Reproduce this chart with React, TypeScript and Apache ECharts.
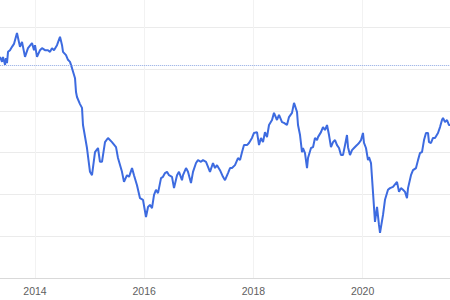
import React, { useEffect, useRef } from "react";
import * as echarts from "echarts";

// Time in decimal years
const years = [
  2013.359, 2013.396, 2013.414, 2013.451, 2013.469, 2013.487, 2013.506, 2013.542, 2013.579, 2013.615,
  2013.670, 2013.725, 2013.762, 2013.817, 2013.872, 2013.945, 2013.982, 2014.000, 2014.037, 2014.092,
  2014.128, 2014.183, 2014.238, 2014.275, 2014.311, 2014.348, 2014.403, 2014.458, 2014.495, 2014.513,
  2014.568, 2014.604, 2014.641, 2014.678, 2014.733, 2014.751, 2014.769, 2014.824, 2014.861, 2014.879,
  2014.952, 2015.007, 2015.044, 2015.099, 2015.154, 2015.190, 2015.227, 2015.282, 2015.337, 2015.410,
  2015.484, 2015.520, 2015.593, 2015.630, 2015.685, 2015.722, 2015.777, 2015.813, 2015.868, 2015.923,
  2015.978, 2016.033, 2016.070, 2016.106, 2016.143, 2016.180, 2016.216, 2016.253, 2016.308, 2016.344,
  2016.381, 2016.418, 2016.454, 2016.509, 2016.546, 2016.601, 2016.637, 2016.692, 2016.711, 2016.766,
  2016.802, 2016.857, 2016.894, 2016.949, 2016.985, 2017.040, 2017.077, 2017.132, 2017.169, 2017.205,
  2017.260, 2017.297, 2017.333, 2017.388, 2017.443, 2017.480, 2017.535, 2017.572, 2017.608, 2017.663,
  2017.718, 2017.755, 2017.791, 2017.828, 2017.883, 2017.919, 2017.974, 2018.011, 2018.066, 2018.103,
  2018.139, 2018.176, 2018.212, 2018.249, 2018.286, 2018.341, 2018.377, 2018.432, 2018.469, 2018.524,
  2018.560, 2018.615, 2018.652, 2018.707, 2018.744, 2018.799, 2018.817, 2018.854, 2018.890, 2018.908,
  2018.945, 2018.982, 2019.000, 2019.055, 2019.092, 2019.128, 2019.165, 2019.183, 2019.238, 2019.275,
  2019.311, 2019.348, 2019.385, 2019.421, 2019.458, 2019.495, 2019.531, 2019.568, 2019.604, 2019.641,
  2019.678, 2019.714, 2019.733, 2019.769, 2019.806, 2019.843, 2019.897, 2019.934, 2019.971, 2020.007,
  2020.026, 2020.062, 2020.099, 2020.117, 2020.154, 2020.190, 2020.227, 2020.264, 2020.300, 2020.319,
  2020.374, 2020.410, 2020.465, 2020.502, 2020.557, 2020.630, 2020.667, 2020.703, 2020.740, 2020.777,
  2020.813, 2020.832, 2020.886, 2020.923, 2020.978, 2021.015, 2021.051, 2021.088, 2021.125, 2021.161,
  2021.198, 2021.216, 2021.253, 2021.289, 2021.326, 2021.381, 2021.418, 2021.454, 2021.473, 2021.509,
  2021.546, 2021.582, 2021.601,
];

const prices = [
  52.9, 51.7, 52.9, 51.0, 52.6, 51.4, 54.1, 54.5, 55.3, 56.0,
  58.6, 55.3, 56.5, 52.9, 55.0, 56.2, 54.5, 55.7, 52.9, 54.5,
  55.0, 54.5, 54.5, 54.1, 55.0, 54.5, 55.7, 57.7, 55.7, 54.1,
  53.3, 52.2, 51.7, 50.2, 47.8, 44.5, 43.3, 41.6, 40.7, 36.6,
  31.1, 25.4, 24.6, 30.1, 31.1, 27.8, 27.8, 32.5, 33.5, 32.5,
  31.3, 28.7, 25.4, 23.0, 24.6, 24.2, 26.3, 24.6, 22.2, 19.1,
  18.7, 14.6, 17.0, 17.5, 16.7, 19.9, 21.1, 20.3, 23.9, 24.2,
  25.1, 25.4, 24.6, 24.2, 21.5, 24.6, 25.4, 23.4, 24.6, 26.3,
  25.4, 22.7, 25.4, 27.5, 28.2, 27.8, 28.2, 27.8, 26.6, 25.4,
  27.5, 26.3, 27.0, 25.8, 24.2, 23.4, 25.1, 26.3, 26.3, 27.0,
  28.7, 28.2, 30.1, 31.8, 31.8, 32.3, 33.5, 34.7, 34.9, 31.8,
  33.5, 32.5, 34.9, 33.7, 36.6, 37.8, 39.5, 37.8, 39.0, 37.3,
  37.1, 36.6, 38.5, 39.5, 41.9, 39.7, 36.6, 34.2, 30.1, 31.1,
  29.9, 26.3, 28.7, 31.1, 31.3, 33.5, 33.0, 33.7, 34.9, 36.1,
  35.4, 36.6, 34.2, 31.3, 32.5, 33.0, 31.8, 31.1, 29.4, 29.4,
  31.8, 34.2, 31.3, 29.4, 30.6, 31.1, 31.8, 32.3, 33.0, 34.7,
  32.3, 31.1, 28.2, 28.9, 27.5, 20.6, 13.4, 17.0, 12.7, 10.8,
  15.1, 18.7, 21.1, 21.5, 21.8, 23.0, 20.6, 21.5, 21.1, 20.6,
  19.1, 21.5, 24.6, 25.8, 26.3, 28.2, 29.9, 30.1, 33.0, 34.7,
  34.7, 32.5, 32.3, 33.5, 33.5, 34.7, 36.1, 37.8, 38.3, 37.3,
  37.8, 36.6, 36.6,
];

const referenceLevel = 50.8;
const yearTicks = [2012, 2014, 2016, 2018, 2020, 2022];
const shownYears = [2014, 2016, 2018, 2020];

export default function App() {
  const ref = useRef<HTMLDivElement>(null);

  useEffect(() => {
    if (!ref.current) return;
    const chart = echarts.init(ref.current, null, { renderer: "svg" });
    const data = years.map((y, i) => [y, prices[i]]);
    chart.setOption({
      animation: false,
      backgroundColor: "#ffffff",
      grid: {
        left: -74.2,
        right: -21.8,
        top: -14.6,
        bottom: 22,
        containLabel: false,
        outerBoundsMode: "none",
      },
      xAxis: {
        type: "value",
        min: yearTicks[0],
        max: yearTicks[yearTicks.length - 1],
        interval: 2,
        axisLine: { show: true, lineStyle: { color: "#d9d9d9", width: 1 } },
        axisTick: { show: false },
        axisLabel: {
          color: "#606060",
          fontSize: 10.5,
          fontFamily: "Liberation Sans, Arial, sans-serif",
          margin: 7,
          showMinLabel: false,
          showMaxLabel: false,
          formatter: (v: number) => (shownYears.includes(v) ? String(v) : ""),
        },
        splitLine: { show: true, lineStyle: { color: "#f2f2f2", width: 1 } },
      },
      yAxis: {
        type: "value",
        min: 0,
        max: 70,
        interval: 10,
        axisLine: { show: false },
        axisTick: { show: false },
        axisLabel: { show: false },
        splitLine: { show: true, lineStyle: { color: "#ebebeb", width: 1 } },
      },
      series: [
        {
          type: "line",
          data,
          showSymbol: false,
          symbol: "none",
          lineStyle: { color: "#3d6be0", width: 2 },
          markLine: {
            silent: true,
            symbol: "none",
            label: { show: false },
            lineStyle: { color: "#8fa9e3", type: "dotted", width: 1 },
            data: [{ yAxis: referenceLevel }],
          },
        },
      ],
    });
    return () => chart.dispose();
  }, []);

  return (
    <div
      ref={ref}
      style={{ position: "absolute", left: 0, top: 0, width: 450, height: 300 }}
    />
  );
}
